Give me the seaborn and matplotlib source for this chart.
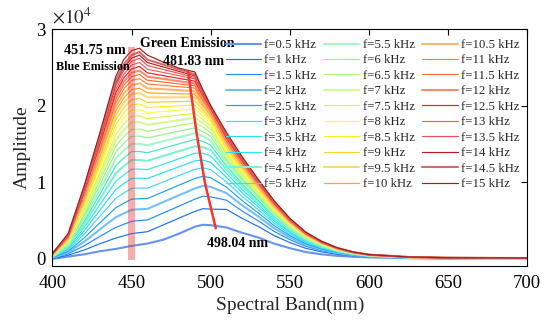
import matplotlib
matplotlib.use('Agg')
import matplotlib.pyplot as plt
import numpy as np
import pandas as pd
import seaborn as sns

# excitation frequencies (kHz), one spectrum each
freq_khz = [0.5, 1, 1.5, 2, 2.5, 3, 3.5, 4, 4.5, 5,
            5.5, 6, 6.5, 7, 7.5, 8, 8.5, 9, 9.5, 10,
            10.5, 11, 11.5, 12, 12.5, 13, 13.5, 14, 14.5, 15]

wavelength = [400, 410, 420, 430, 440, 445, 450, 455, 460, 470, 480, 490, 495, 500,
              510, 520, 530, 540, 550, 560, 570, 580, 590, 600, 625, 650, 700]

# amplitude: one row per wavelength, one column per frequency
amplitude = [
    [0, 40, 90, 130, 170, 210, 240, 270, 310, 340, 370, 390, 420, 440, 460, 490, 510, 520, 540, 560, 580, 590, 610, 620, 630, 650, 660, 670, 680, 700],
    [300, 490, 680, 850, 1020, 1180, 1340, 1480, 1620, 1750, 1870, 1980, 2090, 2190, 2290, 2380, 2470, 2550, 2630, 2700, 2770, 2840, 2900, 2960, 3020, 3080, 3140, 3180, 3230, 3300],
    [600, 1160, 1710, 2240, 2730, 3220, 3670, 4090, 4510, 4890, 5250, 5590, 5900, 6220, 6500, 6780, 7030, 7270, 7510, 7720, 7930, 8140, 8320, 8490, 8660, 8830, 9010, 9150, 9290, 9500],
    [1000, 1980, 2940, 3850, 4710, 5560, 6350, 7080, 7810, 8470, 9090, 9700, 10240, 10780, 11280, 11760, 12190, 12610, 13030, 13400, 13770, 14130, 14440, 14730, 15040, 15340, 15650, 15900, 16130, 16500],
    [1300, 2720, 4110, 5440, 6680, 7920, 9060, 10120, 11180, 12150, 13050, 13920, 14710, 15500, 16220, 16920, 17550, 18150, 18760, 19300, 19840, 20360, 20810, 21240, 21690, 22110, 22560, 22920, 23260, 23800],
    [1500, 3010, 4510, 5930, 7260, 8590, 9820, 10960, 12100, 13150, 14150, 15100, 15960, 16820, 17600, 18370, 19050, 19720, 20390, 20980, 21570, 22150, 22640, 23120, 23610, 24090, 24580, 24980, 25370, 26000],
    [1700, 3300, 4900, 6400, 7800, 9200, 10500, 11700, 12900, 14000, 15000, 16000, 16900, 17800, 18600, 19400, 20100, 20800, 21500, 22100, 22700, 23300, 23800, 24300, 24800, 25300, 25800, 26200, 26600, 27200],
    [1850, 3430, 5000, 6480, 7860, 9250, 10540, 11730, 12920, 14020, 15030, 16040, 16950, 17860, 18690, 19500, 20230, 20950, 21660, 22290, 22920, 23540, 24070, 24590, 25120, 25640, 26180, 26610, 27020, 27500],
    [2000, 3550, 5080, 6530, 7880, 9230, 10490, 11640, 12800, 13860, 14840, 15800, 16660, 17520, 18310, 19070, 19760, 20430, 21090, 21680, 22270, 22840, 23330, 23800, 24290, 24760, 25250, 25640, 26010, 26600],
    [2500, 4430, 5990, 7420, 8750, 10050, 11260, 12360, 13430, 14440, 15360, 16230, 17040, 17810, 18540, 19250, 19870, 20490, 21090, 21620, 22150, 22660, 23090, 23500, 23930, 24340, 24730, 25060, 25370, 25700],
    [3300, 5320, 6890, 8310, 9630, 10880, 12030, 13080, 14070, 15020, 15880, 16670, 17420, 18110, 18770, 19420, 19990, 20540, 21100, 21560, 22020, 22480, 22840, 23200, 23560, 23920, 24220, 24480, 24740, 24900],
    [4200, 6200, 7800, 9200, 10500, 11700, 12800, 13800, 14700, 15600, 16400, 17100, 17800, 18400, 19000, 19600, 20100, 20600, 21100, 21500, 21900, 22300, 22600, 22900, 23200, 23500, 23700, 23900, 24100, 24400],
    [4450, 6550, 8180, 9540, 10780, 11900, 12900, 13800, 14600, 15350, 16030, 16640, 17220, 17730, 18210, 18670, 19060, 19440, 19810, 20120, 20420, 20710, 20940, 21160, 21370, 21570, 21710, 21840, 21960, 22100],
    [4400, 6500, 8100, 9400, 10600, 11650, 12600, 13450, 14200, 14850, 15450, 16000, 16500, 16950, 17350, 17700, 18000, 18280, 18530, 18760, 18970, 19160, 19330, 19480, 19610, 19720, 19810, 19880, 19940, 20000],
    [4100, 6460, 7660, 8590, 9360, 10050, 10650, 11170, 11660, 12100, 12500, 12870, 13190, 13510, 13780, 14060, 14290, 14530, 14750, 14950, 15140, 15320, 15480, 15630, 15790, 15930, 16090, 16200, 16310, 16500],
    [3400, 5280, 6240, 6980, 7600, 8150, 8630, 9040, 9440, 9790, 10100, 10400, 10660, 10910, 11130, 11350, 11540, 11730, 11900, 12060, 12210, 12360, 12490, 12610, 12740, 12850, 12970, 13060, 13150, 13300],
    [2800, 4240, 4980, 5550, 6020, 6450, 6810, 7130, 7440, 7700, 7950, 8170, 8370, 8570, 8740, 8900, 9050, 9190, 9330, 9450, 9560, 9680, 9780, 9870, 9970, 10050, 10150, 10220, 10290, 10400],
    [2000, 3060, 3610, 4030, 4370, 4690, 4960, 5190, 5420, 5610, 5790, 5960, 6110, 6250, 6370, 6500, 6600, 6710, 6810, 6900, 6980, 7070, 7140, 7210, 7280, 7340, 7420, 7470, 7520, 7600],
    [1400, 2140, 2520, 2810, 3050, 3270, 3460, 3620, 3780, 3920, 4040, 4160, 4260, 4360, 4450, 4530, 4610, 4680, 4750, 4810, 4870, 4930, 4980, 5030, 5080, 5120, 5170, 5210, 5240, 5300],
    [900, 1390, 1650, 1840, 2000, 2150, 2270, 2380, 2490, 2580, 2660, 2740, 2810, 2870, 2930, 2990, 3040, 3090, 3130, 3170, 3210, 3250, 3290, 3320, 3350, 3380, 3410, 3440, 3460, 3500],
    [600, 920, 1090, 1220, 1320, 1420, 1500, 1570, 1640, 1700, 1750, 1800, 1850, 1890, 1930, 1970, 2000, 2030, 2060, 2090, 2110, 2140, 2160, 2180, 2200, 2220, 2240, 2260, 2280, 2300],
    [400, 600, 700, 780, 850, 900, 950, 1000, 1040, 1080, 1110, 1140, 1170, 1200, 1220, 1240, 1260, 1280, 1300, 1320, 1340, 1350, 1360, 1380, 1390, 1400, 1420, 1430, 1430, 1450],
    [280, 400, 460, 500, 540, 580, 610, 630, 660, 680, 700, 720, 730, 750, 760, 780, 790, 800, 810, 820, 830, 840, 850, 860, 870, 870, 880, 890, 890, 900],
    [200, 270, 300, 330, 350, 370, 390, 410, 420, 430, 440, 460, 460, 470, 480, 490, 500, 500, 510, 520, 520, 530, 530, 540, 540, 540, 550, 550, 560, 560],
    [80, 110, 130, 140, 150, 160, 170, 180, 180, 190, 200, 200, 210, 210, 210, 220, 220, 220, 230, 230, 230, 230, 240, 240, 240, 240, 240, 250, 250, 250],
    [30, 50, 60, 70, 70, 80, 90, 90, 100, 100, 110, 110, 110, 120, 120, 120, 130, 130, 130, 130, 140, 140, 140, 140, 140, 150, 150, 150, 150, 150],
    [0, 10, 20, 20, 30, 30, 30, 40, 40, 40, 50, 50, 50, 60, 60, 60, 70, 70, 70, 80, 80, 80, 90, 90, 90, 100, 100, 110, 110, 120],
]

line_colors = ['#6495ED', '#1F6FEB', '#1E8FFF', '#74C0F5', '#1AA3E8',
               '#45D5F5', '#25E0F0', '#2EE6E6', '#7FF0D0', '#3DE8C0',
               '#A6F7C6', '#98EE90', '#A8F870', '#D2FA96', '#DAF545',
               '#FFFF4D', '#FFF020', '#FFD02E', '#FFD878', '#FFA51E',
               '#FFB56E', '#FF8030', '#FF6A30', '#FF8A70', '#E82020',
               '#FF5A5A', '#F05050', '#C01A1A', '#C87070', '#A81818']
thick = [1, 0, 0, 1, 0, 0, 0, 0, 1, 0,
         1, 0, 0, 1, 0, 0, 0, 0, 1, 0,
         1, 0, 0, 1, 0, 0, 0, 0, 1, 0]

# trace of the green-emission peak (from the 0.5 kHz curve up to 15 kHz)
green_trace_nm = [503.2, 496.4, 491.1, 485.8]
green_trace_amp = [4000, 9900, 16400, 24400]

labels = [f'f={f:g} kHz' for f in freq_khz]
df = pd.DataFrame(amplitude, index=wavelength, columns=labels)
df.index.name = 'wavelength'
long_df = df.reset_index().melt(id_vars='wavelength', var_name='freq', value_name='amplitude')

sns.set_style('white')
plt.rcParams['font.family'] = 'serif'
plt.rcParams['font.serif'] = ['Liberation Serif', 'DejaVu Serif']
plt.rcParams['mathtext.fontset'] = 'stix'

fig = plt.figure(figsize=(5.49, 3.22), dpi=100)
ax = fig.add_axes([0.0956, 0.1748, 0.8644, 0.7348])

sns.lineplot(data=long_df, x='wavelength', y='amplitude', hue='freq', hue_order=labels,
             palette=line_colors, estimator=None, legend=False, ax=ax)
spectra = list(ax.lines)
for line, w in zip(spectra, thick):
    line.set_linewidth(1.5 if w else 0.85)

# blue emission marker band
ax.fill_betweenx([-150, 27700], 447.6, 452.4, color='#E83030', alpha=0.4, lw=0, zorder=3)

# green peak shift
ax.plot(green_trace_nm, green_trace_amp, color='#FF3030', lw=1.8, zorder=4)
ax.annotate('', xy=(green_trace_nm[-1], green_trace_amp[-1]),
            xytext=(green_trace_nm[-2], green_trace_amp[-2]),
            arrowprops=dict(arrowstyle='-|>', color='#FF3030', lw=0, mutation_scale=7))

bold = dict(fontweight='bold', color='black')
ax.text(446.5, 27250, '451.75 nm', ha='right', va='center', fontsize=10.2, **bold)
ax.text(425.8, 25100, 'Blue Emission', ha='center', va='center', fontsize=8.7, **bold)
ax.text(485.3, 28150, 'Green Emission', ha='center', va='center', fontsize=10, **bold)
ax.text(489.5, 25800, '481.83 nm', ha='center', va='center', fontsize=10, **bold)
ax.text(516.7, 2000, '498.04 nm', ha='center', va='center', fontsize=10, **bold)

ax.set_xlim(400, 700)
ax.set_ylim(-890, 30000)
ax.set_xticks(range(400, 701, 50))
ax.set_yticks([0, 10000, 20000, 30000])
ax.set_yticklabels(['0', '1', '2', '3'])
ax.tick_params(direction='in', top=True, right=True, length=4, width=0.8,
               labelsize=13.5, colors='black')
ax.tick_params(axis='x', pad=7)
ax.tick_params(axis='y', pad=5)
for sp in ax.spines.values():
    sp.set_color('black')
    sp.set_linewidth(0.8)
ax.text(0, 1.005, r'$\times10^{4}$', transform=ax.transAxes, fontsize=13.5,
        ha='left', va='bottom')

ax.set_xlabel('Spectral Band(nm)', fontsize=14, labelpad=3)
ax.set_ylabel('Amplitude', fontsize=14, labelpad=4)

ax.legend(spectra, labels, ncol=3, loc='upper left', bbox_to_anchor=(0.3657, 0.958),
          frameon=False, fontsize=9.2, handlelength=2.75, handletextpad=0.26,
          columnspacing=0.6, labelspacing=0.27, borderpad=0, borderaxespad=0)

fig.savefig('out.png', dpi=100)
